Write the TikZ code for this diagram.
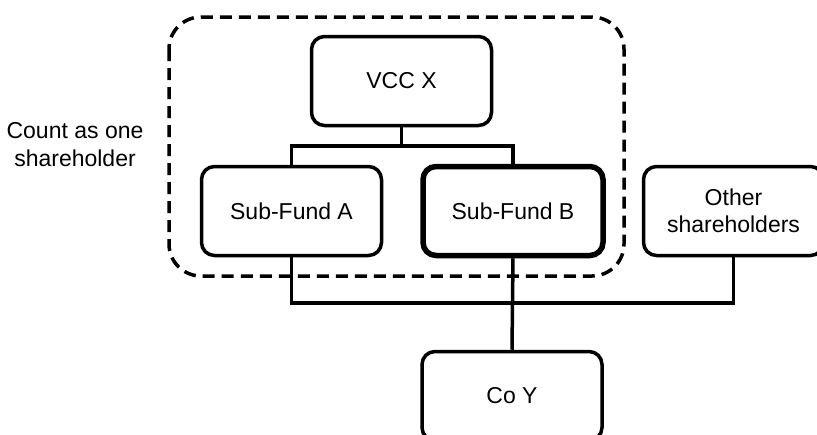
\documentclass[tikz,border=0pt]{standalone}
\usepackage{fontspec}
\setmainfont{Liberation Sans}
\usepackage{tikz}
\usetikzlibrary{positioning,calc}

\begin{document}
\begin{tikzpicture}[x=1pt,y=-1pt,
  entity/.style={draw, line width=3.5pt, rounded corners=13pt, minimum width=180pt, minimum height=89pt, align=center, font=\fontsize{23}{27}\selectfont},
  link/.style={line width=3.5pt}]
\useasboundingbox (0,0) rectangle (817,434);
\clip (0,0) rectangle (817,434);

% Group of the umbrella fund
\draw[line width=3.5pt, dash pattern=on 12pt off 7pt, rounded corners=32pt] (169,17) rectangle (624,276);
\node[align=center, font=\fontsize{23}{28}\selectfont] (grp) at (75,145) {Count as one\\shareholder};

% Entities
\node[entity] (vcc) at (401.5,81) {VCC X};
\node[entity] (sfa) at (291.5,211) {Sub-Fund A};
\node[entity, line width=5.5pt] (sfb) at (513,211) {Sub-Fund B};
\node[entity] (oth) at (733.5,211) {Other\\shareholders};
\node[entity] (coy) at (512,396) {Co Y};

% Ownership lines
\coordinate (split) at (0,146);
\coordinate (bus) at (0,303);
\draw[link] (vcc.south) -- (vcc.south |- split);
\draw[link] (sfa.north) -- (sfa.north |- split) -- (sfb.north |- split) -- (sfb.north);
\draw[link] (sfa.south) -- (sfa.south |- bus) -- (oth.south |- bus) -- (oth.south);
\draw[link] (sfb.south) -- (coy.north);

\end{tikzpicture}
\end{document}
